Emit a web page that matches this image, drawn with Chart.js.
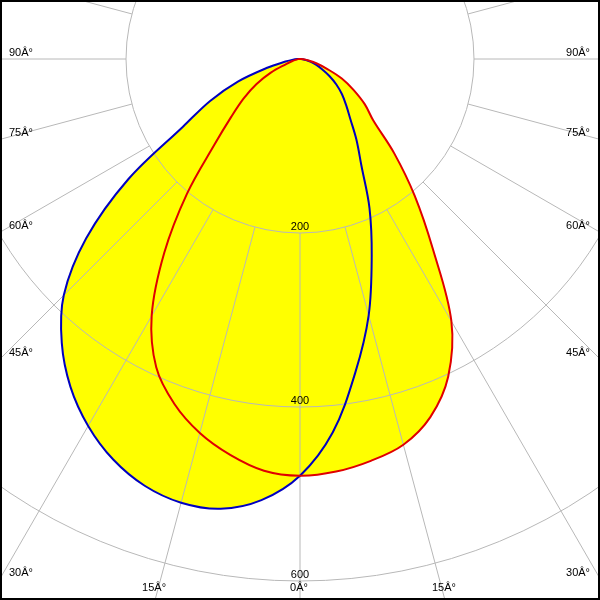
<!DOCTYPE html>
<html>
<head>
<meta charset="utf-8">
<script src="https://cdn.jsdelivr.net/npm/chart.js@4"></script>
<style>
  body { margin: 0; background: #fff; }
  #wrap { position: relative; width: 600px; height: 600px; overflow: hidden; background: #fff; }
  #chart { position: absolute; left: 0; top: 0; }
  #frame { position: absolute; left: 0; top: 0; width: 600px; height: 600px; box-sizing: border-box; border: 2px solid #000; pointer-events: none; }
</style>
</head>
<body>
<div id="wrap">
  <canvas id="chart" width="1392" height="1392"></canvas>
  <div id="frame"></div>
</div>
<script>
// gamma angles 0..180 in 5 degree steps (0 = straight down)
const gammas = [0,5,10,15,20,25,30,35,40,45,50,55,60,65,70,75,80,85,90,
  95,100,105,110,115,120,125,130,135,140,145,150,155,160,165,170,175,180];

// blue plane, left half and right half (cd)
const blueLeft = [479,509,525,528,522,508,487,460,426,384,321,241,155,114,76,39,17,8,2,
  0,0,0,0,0,0,0,0,0,0,0,0,0,0,0,0,0,0];
const blueRight = [479,431,366,305,241,189,141,113,90,75,63,51,39,28,20,13,7,3,1,
  0,0,0,0,0,0,0,0,0,0,0,0,0,0,0,0,0,0];

// red plane, left half and right half (cd)
const redLeft = [479,475,462,445,422,391,341,272,202,139,103,79,58,37,17,9,4,2,1,
  0,0,0,0,0,0,0,0,0,0,0,0,0,0,0,0,0,0];
const redRight = [479,476,469,459,438,403,348,266,205,153,110,91,71,53,33,20,10,4,1,
  0,0,0,0,0,0,0,0,0,0,0,0,0,0,0,0,0,0];

const ringValues = [200, 400, 600, 800];
const tickLabels = ['200', '400', '600'];
const angleStep = 15;
const maxLabelAngle = 90;

// radar goes down -> left -> up -> right, so left half then right half reversed
const labels = gammas.concat(gammas.slice(1, -1).reverse());
const joinSides = (left, right) => left.concat(right.slice(1, -1).reverse());

const CENTER_X = 300, CENTER_Y = 59;
const gridColor = '#b8b8b8';
const font = '11px "Liberation Sans", Arial, sans-serif';

const polarGrid = {
  id: 'polarGrid',
  beforeDatasetsDraw(chart) {
    const r = chart.scales.r;
    const ctx = chart.ctx;
    const cx = r.xCenter, cy = r.yCenter;
    const n = chart.data.labels.length;
    const every = angleStep / 5;
    ctx.save();
    ctx.strokeStyle = gridColor;
    ctx.lineWidth = 1;
    ringValues.forEach(v => {
      ctx.beginPath();
      ctx.arc(cx, cy, r.getDistanceFromCenterForValue(v), 0, Math.PI * 2);
      ctx.stroke();
    });
    for (let i = 0; i < n; i += every) {
      const a = r.getPointPositionForValue(i, ringValues[0]);
      const b = r.getPointPositionForValue(i, r.max);
      ctx.beginPath();
      ctx.moveTo(a.x, a.y);
      ctx.lineTo(b.x, b.y);
      ctx.stroke();
    }

    // visible box in canvas coords
    const L = cx - CENTER_X, R = L + 600, T = cy - CENTER_Y, B = T + 600;
    ctx.fillStyle = '#000';
    ctx.font = font;
    ctx.textBaseline = 'middle';
    for (let i = 0; i < n; i += every) {
      const g = labels[i];
      if (g > maxLabelAngle) continue;
      if (i > 0 && g === 0) continue;
      const p = r.getPointPositionForValue(i, r.max);
      const dx = p.x - cx, dy = p.y - cy;
      let t = Infinity, edge = '';
      if (dx < -1e-6) { const tt = (L - cx) / dx; if (tt < t) { t = tt; edge = 'left'; } }
      if (dx > 1e-6) { const tt = (R - cx) / dx; if (tt < t) { t = tt; edge = 'right'; } }
      if (dy > 1e-6) { const tt = (B - cy) / dy; if (tt < t) { t = tt; edge = 'bottom'; } }
      const hx = cx + dx * t, hy = cy + dy * t;
      const txt = g + 'Â°';
      if (edge === 'left') {
        ctx.textAlign = 'left';
        ctx.fillText(txt, L + 9, hy - 6);
      } else if (edge === 'right') {
        ctx.textAlign = 'right';
        ctx.fillText(txt, R - 10, hy - 6);
      } else {
        ctx.textAlign = 'center';
        ctx.fillText(txt, hx - 1, B - 12);
      }
    }

    ctx.textAlign = 'center';
    tickLabels.forEach((lbl, k) => {
      const p = r.getPointPositionForValue(0, ringValues[k]);
      ctx.fillText(lbl, p.x, p.y - 6);
    });
    ctx.restore();
  }
};

const canvas = document.getElementById('chart');
const chart = new Chart(canvas, {
  type: 'radar',
  data: {
    labels: labels,
    datasets: [
      {
        label: 'C0-C180',
        data: joinSides(redLeft, redRight),
        borderColor: '#e00000',
        backgroundColor: '#ffff00',
        borderWidth: 2,
        fill: true
      },
      {
        label: 'C90-C270',
        data: joinSides(blueLeft, blueRight),
        borderColor: '#0000c0',
        backgroundColor: '#ffff00',
        borderWidth: 2,
        fill: true
      }
    ]
  },
  options: {
    responsive: false,
    animation: false,
    elements: {
      point: { radius: 0, hoverRadius: 0 },
      line: { tension: 0.35 }
    },
    scales: {
      r: {
        min: 0,
        max: 800,
        startAngle: 180,
        ticks: { display: false, stepSize: 200 },
        grid: { display: false },
        angleLines: { display: false },
        pointLabels: { display: false }
      }
    },
    plugins: {
      filler: { drawTime: 'beforeDatasetsDraw' },
      legend: { display: false },
      tooltip: { enabled: false }
    }
  },
  plugins: [polarGrid]
});

const sc = chart.scales.r;
canvas.style.left = (CENTER_X - sc.xCenter) + 'px';
canvas.style.top = (CENTER_Y - sc.yCenter) + 'px';
</script>
</body>
</html>
